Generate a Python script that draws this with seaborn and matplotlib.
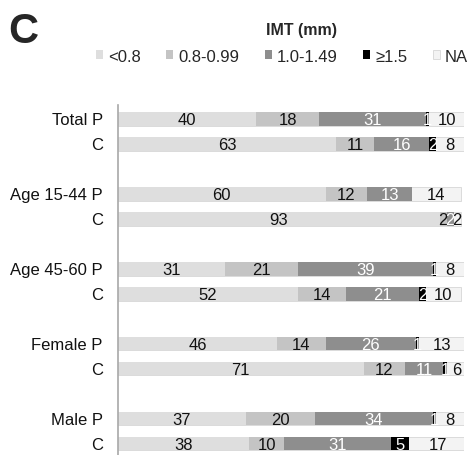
import numpy as np
import pandas as pd
import seaborn as sns
import matplotlib.pyplot as plt
from matplotlib.patches import Patch

# rows of the chart (P = patients, C = controls)
rows = ["Total P", "C", "Age 15-44 P", "C", "Age 45-60 P", "C", "Female P", "C", "Male P", "C"]
row_pos = [0, 1, 3, 4, 6, 7, 9, 10, 12, 13]

cats = ["<0.8", "0.8-0.99", "1.0-1.49", "\u22651.5", "NA"]
lt_08 = [40, 63, 60, 93, 31, 52, 46, 71, 37, 38]
b_08_099 = [18, 11, 12, 2, 21, 14, 14, 12, 20, 10]
b_10_149 = [31, 16, 13, 2, 39, 21, 26, 11, 34, 31]
ge_15 = [1, 2, 0, 0, 1, 2, 1, 1, 1, 5]
na = [10, 8, 14, 2, 8, 10, 13, 6, 8, 17]

colors = ["#dedede", "#c4c4c4", "#8e8e8e", "#000000", "#f3f3f3"]
txt_colors = ["#111111", "#111111", "white", "white", "#111111"]

sns.set_style("white")
plt.rcParams['font.family'] = ['Liberation Sans', 'DejaVu Sans']

vals = np.array([lt_08, b_08_099, b_10_149, ge_15, na]).T
cum = vals.cumsum(axis=1)
df = pd.DataFrame(cum, columns=cats)
df["pos"] = row_pos

fig = plt.figure(figsize=(4.72, 4.56), dpi=100)
ax = fig.add_axes([118 / 472, 0, (464 - 118) / 472, 1 - 106 / 456])

# stacked bars: draw cumulative totals from the right-most category down
for i in reversed(range(len(cats))):
    sns.barplot(data=df, x=cats[i], y="pos", orient="h", native_scale=True,
                color=colors[i], saturation=1, width=0.56, errorbar=None,
                edgecolor="#d6d6d6" if i == 4 else "none", linewidth=0.6, ax=ax)

# value labels
for r in range(len(rows)):
    left = 0
    for i in range(len(cats)):
        v = vals[r, i]
        if v > 0:
            ax.text(left + v / 2, row_pos[r] + 0.05, str(v), ha="center", va="center",
                    fontsize=12, color=txt_colors[i])
        left += v

ax.set_xlim(0, 100)
ax.set_ylim(13.46, -0.54)
ax.set_yticks(row_pos)
ax.set_yticklabels(rows, fontsize=12, color="#111111")
ax.tick_params(axis="y", length=0, pad=11)
ax.set_xticks([])
ax.set_xlabel("")
ax.set_ylabel("")
for s in ["top", "right", "bottom"]:
    ax.spines[s].set_visible(False)
ax.spines["left"].set_color("#a8a8a8")
ax.spines["left"].set_linewidth(1.2)

fig.text(8 / 472, 1 - 32 / 456, "C", fontsize=30, fontweight="bold", va="center", ha="left")
fig.text(302 / 472, 1 - 30 / 456, "IMT (mm)", fontsize=11.5, fontweight="bold", va="center", ha="center")

handles = [Patch(facecolor=c, edgecolor="#d6d6d6" if k == 4 else "none", linewidth=0.6)
           for k, c in enumerate(colors)]
fig.legend(handles, cats, ncol=5, loc="center", bbox_to_anchor=(282 / 472, 1 - 57 / 456),
           frameon=False, fontsize=12, handlelength=0.4, handleheight=0.4,
           handletextpad=0.3, columnspacing=1.55, borderaxespad=0)

fig.savefig("out.png", dpi=100)
